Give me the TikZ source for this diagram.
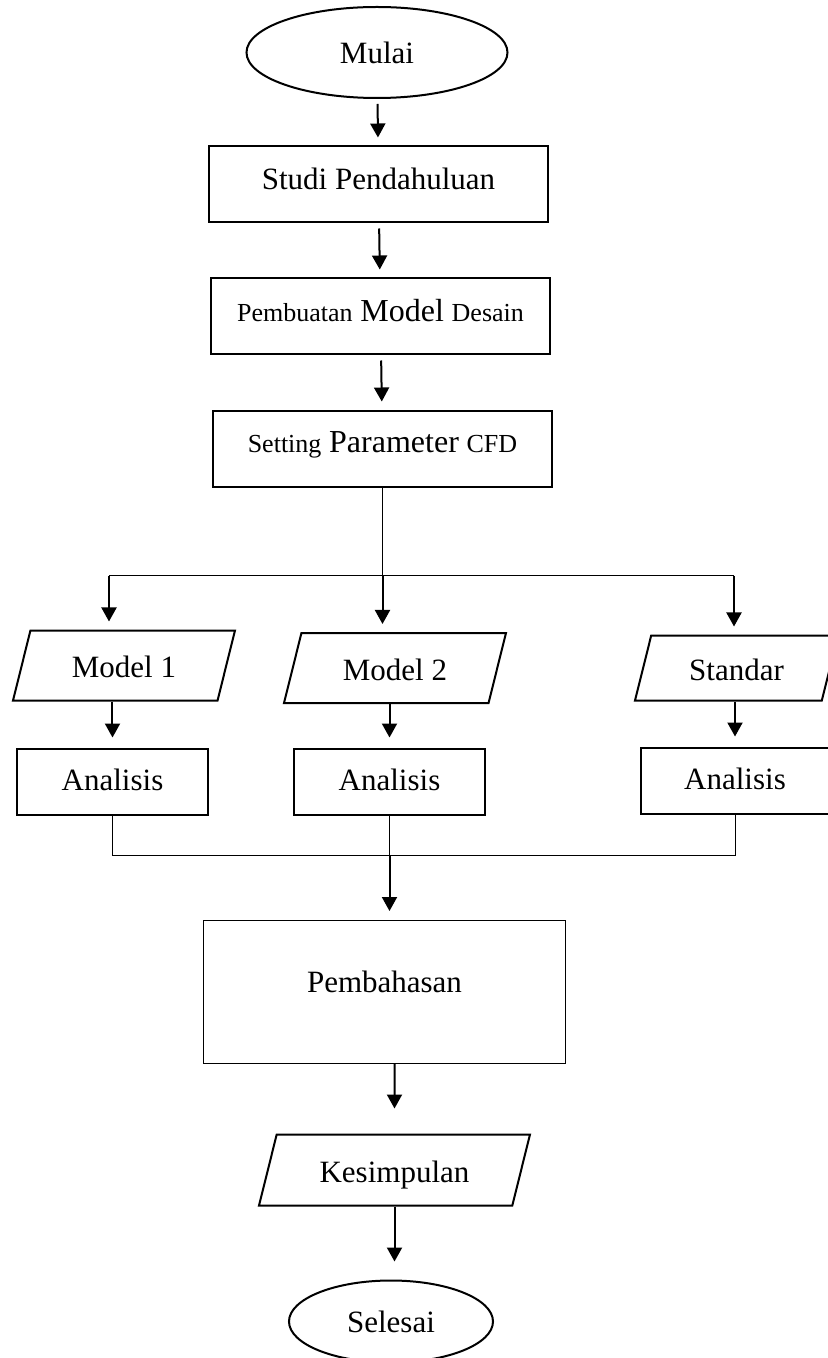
\documentclass[tikz,border=0pt]{standalone}
\usepackage{fontspec}
\setmainfont{Liberation Serif}
\usetikzlibrary{shapes.geometric, arrows.meta}
\tikzstyle{startstop} = [ellipse, minimum width=130.5pt, minimum height=45.5pt, inner sep=0pt, text centered, draw=black, line width=1pt]
\tikzstyle{process} = [rectangle, minimum width=169.5pt, minimum height=38pt, inner sep=0pt, text depth=6pt, text centered, draw=black, line width=1pt]
\tikzstyle{result} = [rectangle, minimum width=95.5pt, minimum height=33pt, inner sep=0pt, text depth=2pt, text centered, draw=black, line width=1pt]
\tikzstyle{io} = [trapezium, trapezium left angle=76, trapezium right angle=104, trapezium stretches body=true, minimum width=111pt, text height=13pt, text depth=1pt, inner xsep=0pt, inner ysep=10.5pt, text centered, draw=black, line width=1pt]
\tikzstyle{arrow} = [line width=1pt, -{Triangle[length=7pt, width=7.5pt]}, shorten <=2.5pt, shorten >=4pt]
\tikzstyle{connector} = [line width=0.5pt]

\begin{document}
\begin{tikzpicture}[node distance=66pt, every node/.style={font=\fontsize{15.5pt}{18pt}\selectfont}]
        \useasboundingbox (-188.5pt,26.25pt) rectangle (225pt,-652.75pt);

        \node (mulai) [startstop] {Mulai};
        \node (studi) [process, below of=mulai, xshift=0.75pt] {Studi Pendahuluan};
        \node (pembuatan) [process, below of=studi, xshift=1pt] {{\fontsize{13pt}{15pt}\selectfont Pembuatan} {\fontsize{16pt}{18pt}\selectfont Model} {\fontsize{13pt}{15pt}\selectfont Desain}};
        \node (setting) [process, below of=pembuatan, xshift=1pt] {{\fontsize{13pt}{15pt}\selectfont Setting} {\fontsize{16pt}{18pt}\selectfont Parameter} {\fontsize{13pt}{15pt}\selectfont CFD}};

        \node (model2) [io, below of=setting, xshift=6.25pt, yshift=-43.75pt] {Model 2};
        \node (model1) [io, left of=model2, xshift=-69.5pt, yshift=1.25pt] {Model 1};
        \node (standar) [io, right of=model2, xshift=104.75pt, minimum width=101.5pt, inner ysep=9.25pt] {Standar};

        \node (analisis2) [result, below of=model2, xshift=-2.75pt, yshift=9.25pt] {Analisis};
        \node (analisis1) [result, left of=analisis2, xshift=-72.5pt] {Analisis};
        \node (analisis3) [result, right of=analisis2, xshift=106.75pt, yshift=0.5pt, minimum width=94pt] {Analisis};

        \node (pembahasan) [process, below of=analisis2, xshift=-2.5pt, yshift=-39.25pt, minimum width=180.5pt, minimum height=71.5pt, text depth=10pt, line width=0.5pt] {Pembahasan};
        \node (kesimpulan) [io, below of=pembahasan, xshift=5pt, yshift=-23pt, minimum width=135.5pt, inner ysep=10.75pt] {Kesimpulan};
        \node (selesai) [startstop, below of=kesimpulan, xshift=-1.75pt, yshift=-9.75pt, minimum width=102pt, minimum height=41pt] {Selesai};

        \coordinate (split) at ([yshift=-44pt]setting.south);
        \coordinate (splitleft) at ([xshift=-136.75pt]split);
        \coordinate (splitright) at ([xshift=175.75pt]split);
        \coordinate (merge) at ([yshift=-20pt]analisis2.south);

        \draw [arrow] (mulai) -- (studi);
        \draw [arrow] (studi) -- (pembuatan);
        \draw [arrow] (pembuatan) -- (setting);

        \draw [connector] (setting.south) -- (split);
        \draw [connector] (splitleft) -- (splitright);
        \draw [arrow, shorten <=0pt] (splitleft) -- (splitleft |- model1.north);
        \draw [arrow, shorten <=0pt] (split) -- (split |- model2.north);
        \draw [arrow, shorten <=0pt] (splitright) -- (splitright |- standar.north);

        \draw [arrow, shorten <=0pt, shorten >=5pt] (model1.south -| analisis1) -- (analisis1.north);
        \draw [arrow, shorten <=0pt, shorten >=5pt] (model2.south -| analisis2) -- (analisis2.north);
        \draw [arrow, shorten <=0pt, shorten >=5pt] (standar.south -| analisis3) -- (analisis3.north);

        \draw [connector] (analisis1.south) |- (merge);
        \draw [connector] (analisis2.south) -- (merge);
        \draw [connector] (analisis3.south) |- (merge);
        \draw [arrow, shorten <=0pt, shorten >=4.5pt] (merge) -- (merge |- pembahasan.north);

        \draw [arrow, shorten <=0pt, shorten >=12.5pt] (pembahasan.south -| kesimpulan) -- (kesimpulan.north);
        \draw [arrow, shorten <=0pt, shorten >=9pt] (kesimpulan.south) -- (kesimpulan.south |- selesai.north);
    \end{tikzpicture}
\end{document}
